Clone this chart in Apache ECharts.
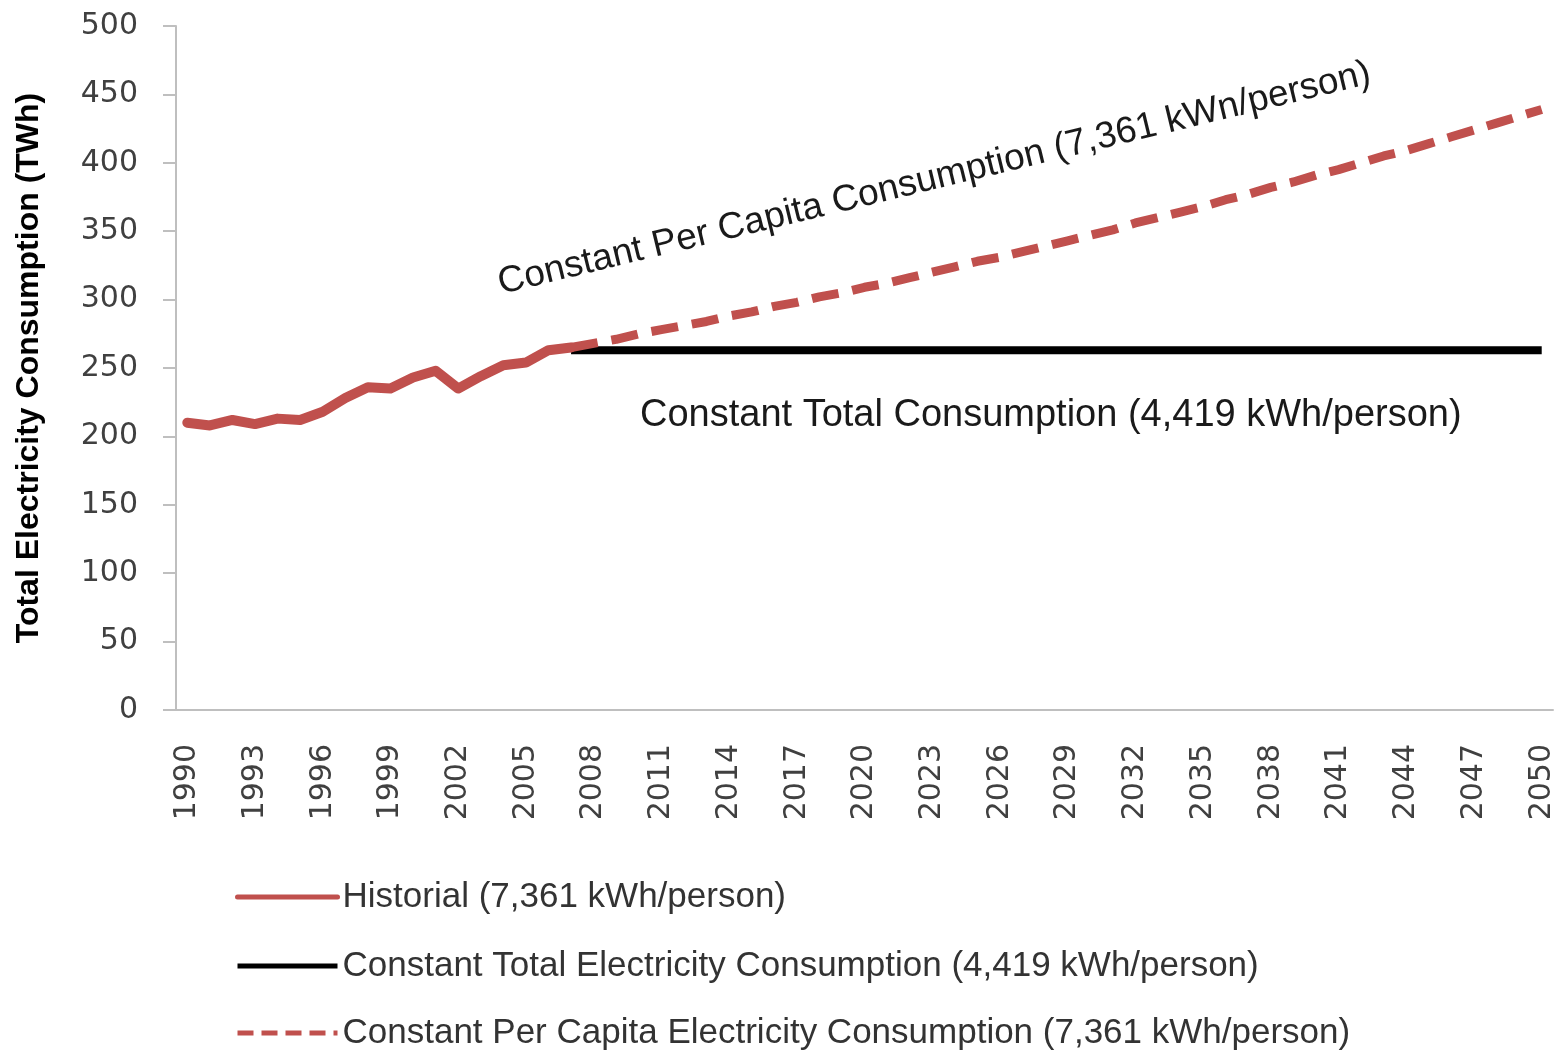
<!DOCTYPE html>
<html>
<head>
<meta charset="utf-8">
<script src="https://cdn.jsdelivr.net/npm/echarts@6/dist/echarts.min.js"></script>
<style>
html,body{margin:0;padding:0;background:#fff;}
#chart{width:1560px;height:1053px;}
</style>
</head>
<body>
<div id="chart"></div>
<script>
// Years 1990..2050
var years = [];
for (var y = 1990; y <= 2050; y++) years.push(String(y));

// Historical total consumption (TWh), 1990..2007
var historical = [210, 208, 212, 209, 213, 212, 218, 228, 236, 235, 243, 248, 235, 244, 252, 254, 263, 265];

// Constant total consumption (TWh), 2007..2050
var constantTotal = [263, 263, 263, 263, 263, 263, 263, 263, 263, 263, 263, 263, 263, 263, 263,
  263, 263, 263, 263, 263, 263, 263, 263, 263, 263, 263, 263, 263, 263, 263,
  263, 263, 263, 263, 263, 263, 263, 263, 263, 263, 263, 263, 263, 263];

// Constant per-capita consumption (TWh), 2007..2050
var constantPerCapita = [265, 268, 271, 275, 278, 281, 284, 288, 291, 295, 298, 302, 305, 309, 312,
  316, 320, 324, 328, 331, 335, 339, 343, 347, 351, 356, 360, 364, 368, 373,
  377, 382, 386, 391, 395, 400, 405, 409, 414, 419, 424, 429, 434, 439];

var yTicks = [0, 50, 100, 150, 200, 250, 300, 350, 400, 450, 500];

var seriesNames = [
  'Historial (7,361 kWh/person)',
  'Constant Total Electricity Consumption (4,419 kWh/person)',
  'Constant Per Capita Electricity Consumption (7,361 kWh/person)'
];

function pad(arr, startYear) {
  var out = [];
  for (var i = 0; i < years.length; i++) {
    var yr = 1990 + i;
    var k = yr - startYear;
    out.push(k >= 0 && k < arr.length ? arr[k] : null);
  }
  return out;
}

var RED = '#C0504D';
var AXIS = '#BFBFBF';

function makeLegend(name, top, extra) {
  var item = {name: name};
  if (extra) item.lineStyle = extra;
  return {
    orient: 'vertical', left: 235, top: top, padding: 0,
    selectedMode: false,
    itemWidth: 100, itemHeight: 20, itemGap: 10,
    itemStyle: {opacity: 0},
    lineStyle: {width: 5},
    textStyle: {fontFamily: 'Liberation Sans', fontSize: 35, color: '#333', lineHeight: 40},
    data: [item]
  };
}

var chart = echarts.init(document.getElementById('chart'), null, {renderer: 'canvas'});
chart.setOption({
  backgroundColor: '#fff',
  animation: false,
  grid: {left: 176, right: 7, top: 26, bottom: 343, containLabel: false, outerBoundsMode: 'none'},
  xAxis: {
    type: 'category',
    data: years,
    boundaryGap: true,
    axisLine: {lineStyle: {color: AXIS, width: 2}},
    axisTick: {interval: 0, length: 9, lineStyle: {color: AXIS, width: 2}},
    axisLabel: {interval: 2, rotate: 90, margin: 34, color: '#404040',
      fontFamily: 'DejaVu Sans', fontSize: 30}
  },
  yAxis: {
    type: 'value',
    min: 0, max: 500, interval: 50,
    name: 'Total Electricity Consumption (TWh)',
    nameLocation: 'middle',
    nameRotate: 90,
    nameGap: 131,
    nameTextStyle: {fontFamily: 'Liberation Sans', fontWeight: 'bold', fontSize: 32, color: '#000'},
    splitLine: {show: false},
    axisLine: {show: true, lineStyle: {color: AXIS, width: 2}},
    axisTick: {show: true, length: 13, lineStyle: {color: AXIS, width: 2}},
    axisLabel: {margin: 38, color: '#404040', fontFamily: 'DejaVu Sans', fontSize: 30,
      formatter: function (v) { return yTicks.indexOf(v) >= 0 ? String(v) : ''; }}
  },
  legend: [
    makeLegend(seriesNames[0], 877),
    makeLegend(seriesNames[1], 946),
    makeLegend(seriesNames[2], 1013, {type: [16, 8], width: 5})
  ],
  series: [
    {
      name: seriesNames[1], type: 'line', data: pad(constantTotal, 2007),
      symbol: 'none', color: '#000',
      lineStyle: {color: '#000', width: 8}
    },
    {
      name: seriesNames[2], type: 'line', data: pad(constantPerCapita, 2007),
      symbol: 'none', color: RED,
      lineStyle: {color: RED, width: 9, type: [27, 14]}
    },
    {
      name: seriesNames[0], type: 'line', data: pad(historical, 1990),
      symbol: 'none', color: RED,
      lineStyle: {color: RED, width: 10, cap: 'round', join: 'round'}
    }
  ],
  graphic: [
    {
      type: 'text', x: 503, y: 302, rotation: 13.6 * Math.PI / 180,
      style: {text: 'Constant Per Capita Consumption (7,361 kWn/person)',
        fontFamily: 'Liberation Sans', fontSize: 37, fill: '#1a1a1a',
        textAlign: 'left', textVerticalAlign: 'bottom'}
    },
    {
      type: 'text', x: 640, y: 416,
      style: {text: 'Constant Total Consumption (4,419 kWh/person)',
        fontFamily: 'Liberation Sans', fontSize: 38, fill: '#1a1a1a',
        textAlign: 'left', textVerticalAlign: 'middle'}
    }
  ]
});
</script>
</body>
</html>
